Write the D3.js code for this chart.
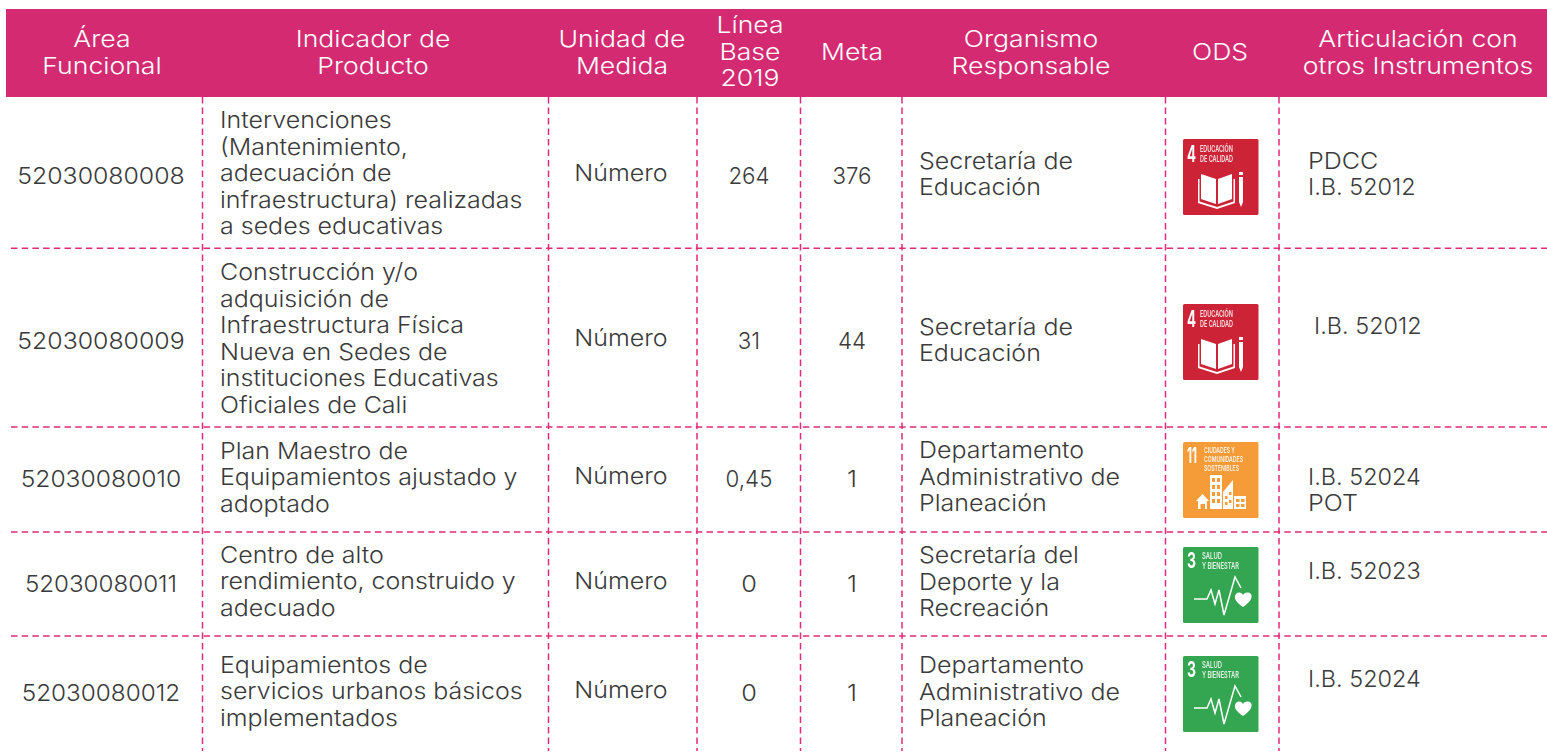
<!DOCTYPE html>
<html><head><meta charset="utf-8">
<script src="https://cdn.jsdelivr.net/npm/d3@7/dist/d3.min.js"></script>
<style>html,body{margin:0;background:#fff;overflow:hidden}text{font-family:Inter,"Open Sans",sans-serif}</style>
</head><body><svg id="c" width="1547" height="755"><defs><filter id="soft" x="-5%" y="-5%" width="110%" height="110%"><feGaussianBlur stdDeviation="0.35"/></filter></defs></svg>
<script>
const headerLines=[["Área","Funcional"],["Indicador de","Producto"],["Unidad de","Medida"],["Línea","Base","2019"],["Meta"],["Organismo","Responsable"],["ODS"],["Articulación con","otros Instrumentos"]];
const areaCodes=["52030080008","52030080009","52030080010","52030080011","52030080012"];
const indicators=[["Intervenciones","(Mantenimiento,","adecuación de","infraestructura) realizadas","a sedes educativas"],["Construcción y/o","adquisición de","Infraestructura Física","Nueva en Sedes de","instituciones Educativas","Oficiales de Cali"],["Plan Maestro de","Equipamientos ajustado y","adoptado"],["Centro de alto","rendimiento, construido y","adecuado"],["Equipamientos de","servicios urbanos básicos","implementados"]];
const units=["Número","Número","Número","Número","Número"];
const baselines=["264","31","0,45","0","0"];
const goals=["376","44","1","1","1"];
const organisms=[["Secretaría de","Educación"],["Secretaría de","Educación"],["Departamento","Administrativo de","Planeación"],["Secretaría del","Deporte y la","Recreación"],["Departamento","Administrativo de","Planeación"]];
const odsGoals=[4,4,11,3,3];
const instruments=[["PDCC","I.B. 52012"],["I.B. 52012"],["I.B. 52024","POT"],["I.B. 52023"],["I.B. 52024"]];

const PINK="#d42a72",VDASH="#e6287c",HDASH="#dc2c76",INK="#3a3a3a",FS=23,LH=26.5;
const svg=d3.select("#c");
const colEdges=[6,202.5,548.5,697,800.5,902,1165.5,1279,1547];
const rowEdges=[97,248.3,427,532,636,751];
const x=d3.scaleOrdinal(d3.range(9),colEdges);
const yEdge=d3.scaleOrdinal(d3.range(6),rowEdges);
const yArea=[176,341,479,584,693],yInd=[173,338,477,581,691],yUnit=[173,338,476,581,690],yNum=[176,341,479,584,693];
const yOrg=[173.5,339.5,476.5,581.5,691.5],yInst=[173.5,326,489.5,571,679],yIcon=[177,342,480,585,694];
const xInst=[1308,1314,1308,1308,1308];
const areaStretch=[1.08,1.08,1.07,1.05,1.057];

svg.append("rect").attr("x",6).attr("y",9).attr("width",1541).attr("height",88).attr("fill",PINK);

const cx=[102,373,622,750,852,1031,1220,1418],hy=[52,52,52,51.5,52,52,52,52];
function lines(g,arr,xp,yc,anchor,opt={}){
  const stretch=opt.k||1.086;
  g.selectAll(null).data(arr).join("text").attr("x",xp).attr("y",(d,i)=>yc+(i-(arr.length-1)/2)*LH)
   .attr("dy","0.36em").attr("text-anchor",anchor).attr("fill",opt.fill||INK)
   .attr("font-size",FS).attr("font-weight",300).text(d=>d)
   .each(function(d){const k=typeof stretch==="function"?stretch(d):stretch;
     d3.select(this).attr("lengthAdjust","spacingAndGlyphs").attr("textLength",this.getComputedTextLength()*k);});
}
const hg=svg.append("g");
headerLines.forEach((l,i)=>lines(hg,l,cx[i],hy[i],"middle",{fill:"#fff",k:1.155}));

const grid=svg.append("g").attr("fill","none").attr("stroke-width",1.5);
d3.range(1,8).forEach(i=>grid.append("line").attr("stroke",VDASH).attr("x1",x(i)).attr("x2",x(i)).attr("y1",yEdge(0)).attr("y2",yEdge(5)).attr("stroke-dasharray","6.5 4"));
d3.range(1,5).forEach(i=>grid.append("line").attr("stroke",HDASH).attr("x1",11).attr("x2",1547).attr("y1",yEdge(i)).attr("y2",yEdge(i)).attr("stroke-dasharray","6.5 4.2"));

const body=svg.append("g");
const numK=d=>d.length>1?0.97:1.1;
const instK=d=>d.startsWith("I.B.")?1.02:1.09;
areaCodes.forEach((d,r)=>{
  lines(body,[d],101,yArea[r],"middle",{k:areaStretch[r]});
  lines(body,indicators[r],220,yInd[r],"start");
  lines(body,[units[r]],621,yUnit[r],"middle");
  lines(body,[baselines[r]],749,yNum[r],"middle",{k:numK});
  lines(body,[goals[r]],852,yNum[r],"middle",{k:numK});
  lines(body,organisms[r],919,yOrg[r],"start");
  lines(body,instruments[r],xInst[r],yInst[r],"start",{k:instK});
  icon(1183,yIcon[r]-38,odsGoals[r]);
});

function icon(ix,iy,n){
  const conf={4:{c:"#cc2436",t:["EDUCACIÓN","DE CALIDAD"],w:[33,33],y:[13,23],fs:9.5},
              11:{c:"#f59c38",t:["CIUDADES Y","COMUNIDADES","SOSTENIBLES"],w:[31,39,35],y:[11,20,28.5],fs:8},
              3:{c:"#34a551",t:["SALUD","Y BIENESTAR"],w:[20,37],y:[12,22],fs:8.5}}[n];
  const g=svg.append("g").attr("transform",`translate(${ix},${iy})`);
  g.append("rect").attr("width",75.5).attr("height",76).attr("rx",1.5).attr("fill",conf.c);
  const d=g.append("g").attr("filter","url(#soft)");
  d.append("text").attr("x",4).attr("y",n===4?23:21).attr("fill","#fff").attr("font-size",n===4?23:21).attr("font-weight",700)
    .attr("textLength",n===11?10:9).attr("lengthAdjust","spacingAndGlyphs").text(n);
  const tx=n===4?17:(n===11?21:19);
  conf.t.forEach((t,i)=>d.append("text").attr("x",tx).attr("y",conf.y[i]).attr("fill","#fff").attr("fill-opacity",.85).attr("font-size",conf.fs).attr("font-weight",600)
    .attr("textLength",conf.w[i]).attr("lengthAdjust","spacingAndGlyphs").text(t));
  const w=d.append("g").attr("fill","#fff").attr("stroke","none");
  if(n===4){
    w.append("path").attr("d","M18 35 L33 40 L33 65 L18 60 Z M35 40 L49 35 L49 60 L35 65 Z");
    w.append("path").attr("d","M15 40 L15 64 L34 70 L52 64 L52 40 L50.5 40 L50.5 62.5 L34 68 L16.5 62.5 L16.5 40 Z");
    w.append("path").attr("d","M56 33 L60 33 L60 36 L56 36 Z M56 38 L60 38 L60 63 L58 68 L56 63 Z");
  } else if(n===11){
    w.append("path").attr("fill-rule","evenodd").attr("d","M27 33 L39 33 L39 67 L27 67 Z M29 36 v4 h3 v-4 z M34 36 v4 h3 v-4 z M29 43 v4 h3 v-4 z M34 43 v4 h3 v-4 z M29 50 v4 h3 v-4 z M34 50 v4 h3 v-4 z M29 57 v4 h3 v-4 z M34 57 v4 h3 v-4 z");
    w.append("path").attr("fill-rule","evenodd").attr("d","M40 67 L40 50 L50 38 L50 67 Z M42 54 v3 h2.5 v-3 z M46 50 v3 h2.5 v-3 z M42 60 v3 h2.5 v-3 z M46 58 v3 h2.5 v-3 z");
    w.append("path").attr("fill-rule","evenodd").attr("d","M51 54 L63 54 L63 67 L51 67 Z M53 57 v3 h3.5 v-3 z M58 57 v3 h3.5 v-3 z M53 62 v3 h3.5 v-3 z M58 62 v3 h3.5 v-3 z");
    w.append("path").attr("fill-rule","evenodd").attr("d","M15 67 L15 59 L13 59 L19.5 52 L26 59 L24 59 L24 67 L22 67 L22 62 L17.5 62 L17.5 67 Z");
  } else {
    d.append("path").attr("d","M11 52 L24 52 L28 43 L32 57 L36 43 L41 68 L52 30 L58 41").attr("fill","none").attr("stroke","#fff").attr("stroke-width",1.5);
    w.append("path").attr("d","M60 60 C53 55 50 51 53 47 C56 44 59 46 60 48 C61 46 65 44 68 47 C70 51 67 55 60 60 Z");
  }
}
</script></body></html>
